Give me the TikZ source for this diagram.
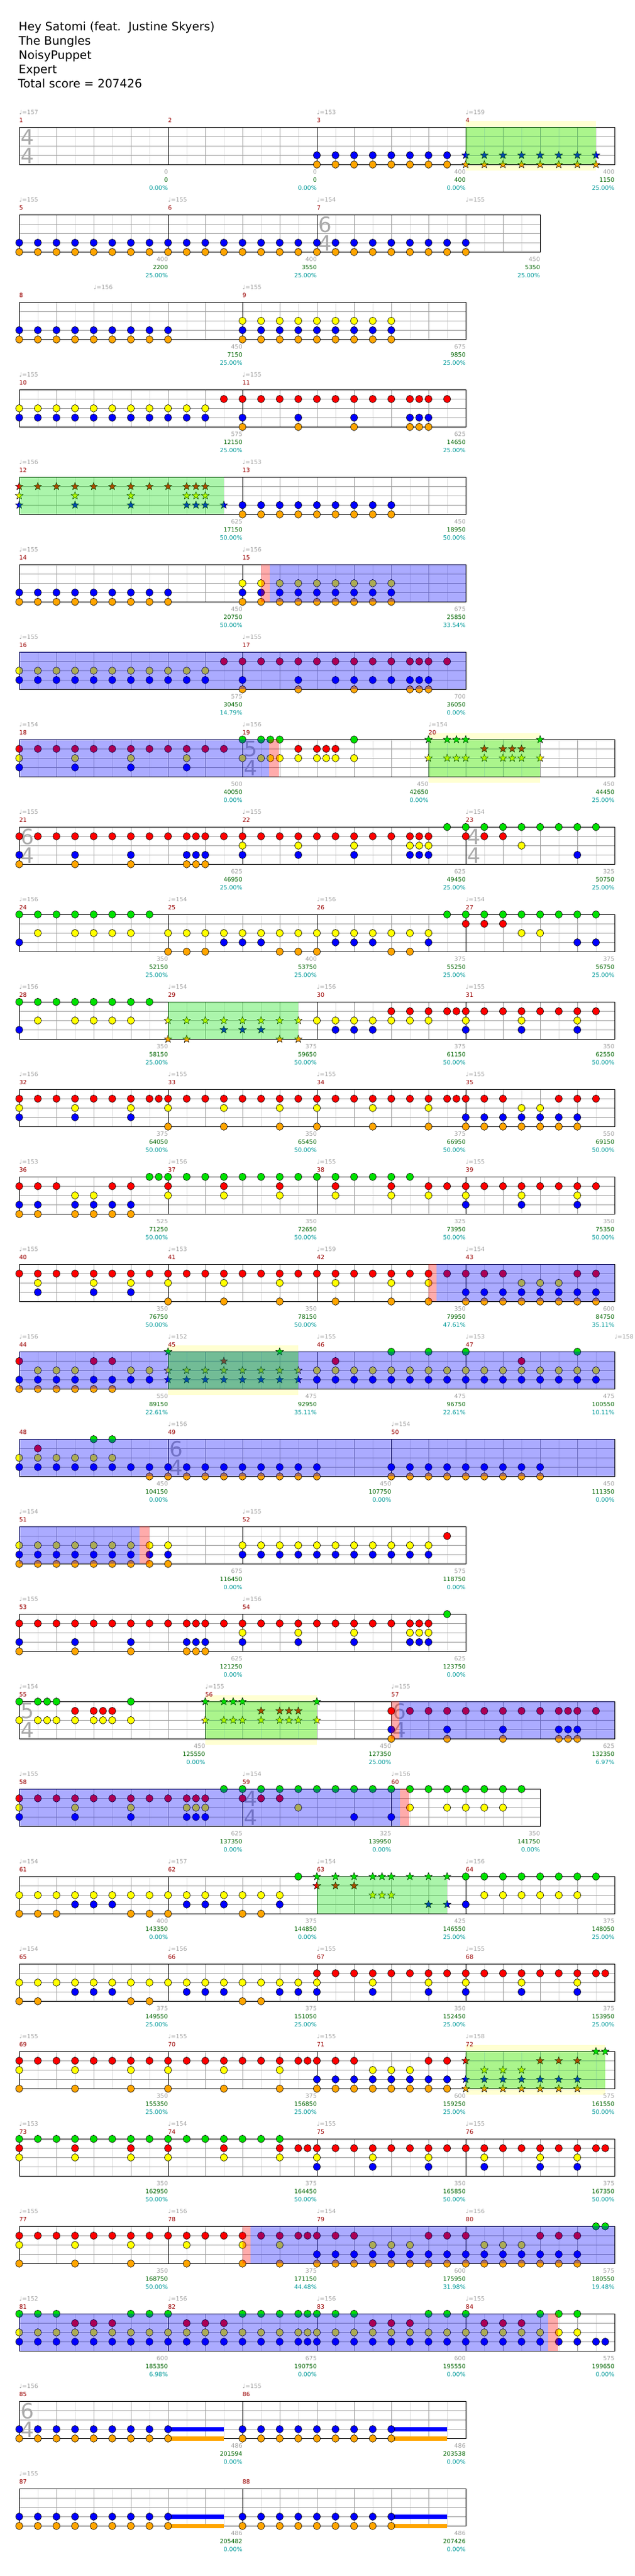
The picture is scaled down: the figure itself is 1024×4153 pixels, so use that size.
\documentclass[tikz,border=0pt]{standalone}
\usepackage{fontspec}
\setmainfont{DejaVu Sans}
\usetikzlibrary{shapes.geometric}

\begin{document}
\begin{tikzpicture}[x=1pt, y=1pt,
    nt/.style={ellipse, draw=black, line width=0.6pt, minimum width=11pt, minimum height=12pt, inner sep=0pt},
    st/.style={star, star points=5, star point ratio=2.4, draw=black, line width=0.5pt, minimum size=13pt, inner sep=0pt},
    rnd/.style={shift={(31pt,{-(205.3+(#1-1)*141)*1pt})}, x=30pt, y=-15pt},
    txt/.style={inner sep=0pt, font=\fontsize{9.5}{10}\selectfont},
    hdr/.style={inner sep=0pt, anchor=base west, font=\fontsize{18.8}{22}\selectfont},
    sig/.style={inner sep=0pt, text=tsgray, font=\fontsize{34}{34}\selectfont},
    gl/.style={draw=llgray, line width=0.8pt},
    gm/.style={draw=lgray, line width=0.8pt},
    spc/.style={fill=ln0, opacity=0.33},
    brc/.style={fill=blue, opacity=0.33},
    pkc/.style={fill=red, opacity=0.33},
    solc/.style={fill=solocol}]
    \definecolor{ln0}{RGB}{0,225,0}
    \definecolor{ln1}{RGB}{255,0,0}
    \definecolor{ln2}{RGB}{255,255,0}
    \definecolor{ln3}{RGB}{0,0,255}
    \definecolor{ln4}{RGB}{255,165,0}
    \definecolor{lgray}{RGB}{160,160,160}
    \definecolor{llgray}{RGB}{222,222,222}
    \definecolor{tsgray}{RGB}{170,170,170}
    \definecolor{mred}{RGB}{153,0,0}
    \definecolor{sgreen}{RGB}{0,100,0}
    \definecolor{pteal}{RGB}{0,153,153}
    \definecolor{solocol}{RGB}{255,255,210}

    \def\staff#1{%
        \foreach \i in {1,3,...,#1} \draw[gl] (\i,0) -- (\i,4);
        \foreach \i in {2,4,...,#1} \draw[gm] (\i,0) -- (\i,4);
        \foreach \j in {1,2,3} \draw[gm] (0,\j) -- (#1,\j);
        \draw[line width=1pt] (0,0) rectangle (#1,4);}
    \def\meas#1#2{\draw[line width=0.9pt] (#1,0) -- (#1,4);
        \node[txt, text=mred, anchor=west] at (#1,-0.75) {#2};}
    \def\tempo#1#2{\node[txt, text=lgray, anchor=base west] at (#1,-1.38) {♩=#2};}
    \def\tsig#1#2#3{\node[sig] at (#1+0.44,1.03) {#2}; \node[sig] at (#1+0.44,3.03) {#3};}
    \def\scores#1#2#3#4{\node[txt, text=lgray, anchor=east] at (#1,4.8) {#2};
        \node[txt, text=sgreen, anchor=east] at (#1,5.667) {#3};
        \node[txt, text=pteal, anchor=east] at (#1,6.533) {#4\%};}
    \def\notes#1#2{\foreach \e in {#2} \node[nt, fill=ln#1] at (\e,#1) {};}
    \def\stars#1#2{\foreach \e in {#2} \node[st, fill=ln#1] at (\e,#1) {};}
    \def\starpow#1#2{\fill[spc] (#1,0) rectangle (#2,4);}
    \def\bru#1#2{\fill[brc] (#1,0) rectangle (#2,4);}
    \def\ppk#1#2{\fill[pkc] (#1,0) rectangle (#2,4);}
    \def\solo#1#2{\fill[solc] (#1,-0.667) rectangle (#2,4.667);}
    \def\sus#1#2#3{\fill[ln#1] (#2,#1-0.22) rectangle (#3,#1+0.22);}

    \useasboundingbox (0,0) rectangle (1024,-4153);

    % header
    \node[hdr] (title) at (30,-50) {Hey Satomi (feat.\ \ Justine Skyers)};
    \node[hdr] (artist) at (30,-72.8) {The Bungles};
    \node[hdr] (charter) at (30,-95.7) {NoisyPuppet};
    \node[hdr] (level) at (30,-118.5) {Expert};
    \node[hdr] (total) at (29,-141.3) {Total score = 207426};

    % row 1
    \begin{scope}[rnd=1]
        \solo{24}{31}
        \staff{32}
        \meas{0}{1} \meas{8}{2} \meas{16}{3} \meas{24}{4}
        \tsig{0}{4}{4}
        \notes{3}{16,...,23} \notes{4}{16,...,23}
        \stars{3}{24,...,31} \stars{4}{24,...,31}
        \starpow{24}{31}
        \tempo{0}{157} \tempo{16}{153} \tempo{24}{159}
        \scores{8}{0}{0}{0.00} \scores{16}{0}{0}{0.00} \scores{24}{400}{400}{0.00} \scores{32}{400}{1150}{25.00}
    \end{scope}

    % row 2
    \begin{scope}[rnd=2]
        \staff{28}
        \meas{0}{5} \meas{8}{6} \meas{16}{7}
        \tsig{16}{6}{4}
        \notes{3}{0,...,24} \notes{4}{0,...,24}
        \tempo{0}{155} \tempo{8}{155} \tempo{16}{154} \tempo{24}{155}
        \scores{8}{400}{2200}{25.00} \scores{16}{400}{3550}{25.00} \scores{28}{450}{5350}{25.00}
    \end{scope}

    % row 3
    \begin{scope}[rnd=3]
        \staff{24}
        \meas{0}{8} \meas{12}{9}
        \notes{2}{12,...,20}
        \notes{3}{0,...,8,12,13,...,20} \notes{4}{0,...,8,12,13,...,20}
        \tempo{4}{156} \tempo{12}{155}
        \scores{12}{450}{7150}{25.00} \scores{24}{675}{9850}{25.00}
    \end{scope}

    % row 4
    \begin{scope}[rnd=4]
        \staff{24}
        \meas{0}{10} \meas{12}{11}
        \notes{1}{11,...,21,21.5,22,23}
        \notes{2}{0,...,10}
        \notes{3}{0,...,10,12,15,18,21,21.5,22}
        \notes{4}{12,15,18,21,21.5,22}
        \tempo{0}{155} \tempo{12}{155}
        \scores{12}{575}{12150}{25.00} \scores{24}{625}{14650}{25.00}
    \end{scope}

    % row 5
    \begin{scope}[rnd=5]
        \staff{24}
        \meas{0}{12} \meas{12}{13}
        \stars{1}{0,...,9,9.5,10}
        \stars{2}{0,3,6,9,9.5,10}
        \stars{3}{0,3,6,9,9.5,10,11}
        \notes{3}{12,...,20} \notes{4}{12,...,20}
        \starpow{0}{11}
        \tempo{0}{156} \tempo{12}{153}
        \scores{12}{625}{17150}{50.00} \scores{24}{450}{18950}{50.00}
    \end{scope}

    % row 6
    \begin{scope}[rnd=6]
        \staff{24}
        \meas{0}{14} \meas{12}{15}
        \notes{2}{12,...,20}
        \notes{3}{0,...,8,12,13,...,20} \notes{4}{0,...,8,12,13,...,20}
        \ppk{13}{13.45} \bru{13.45}{24}
        \tempo{0}{155} \tempo{12}{156}
        \scores{12}{450}{20750}{50.00} \scores{24}{675}{25850}{33.54}
    \end{scope}

    % row 7
    \begin{scope}[rnd=7]
        \staff{24}
        \meas{0}{16} \meas{12}{17}
        \notes{1}{11,...,21,21.5,22,23}
        \notes{2}{0,...,10}
        \notes{3}{0,...,10,12,15,17,18,19,20,21,21.5,22}
        \notes{4}{12,15,18,21,21.5,22}
        \bru{0}{24}
        \tempo{0}{155} \tempo{12}{155}
        \scores{12}{575}{30450}{14.79} \scores{24}{700}{36050}{0.00}
    \end{scope}

    % row 8
    \begin{scope}[rnd=8]
        \solo{22}{28}
        \staff{32}
        \meas{0}{18} \meas{12}{19} \meas{22}{20}
        \tsig{12}{5}{4}
        \notes{0}{12,13,13.5,14,18}
        \notes{1}{0,...,11,15,16,16.5,17}
        \notes{2}{0,3,6,9,12,13,13.5,14,15,16,16.5,17,18}
        \notes{3}{0,3,6,9}
        \stars{0}{22,23,23.5,24,28}
        \stars{1}{25,26,26.5,27}
        \stars{2}{22,23,23.5,24,25,26,26.5,27,28}
        \bru{0}{13.43} \ppk{13.43}{13.98}
        \starpow{22}{28}
        \tempo{0}{154} \tempo{12}{156} \tempo{22}{154}
        \scores{12}{500}{40050}{0.00} \scores{22}{450}{42650}{0.00} \scores{32}{450}{44450}{25.00}
    \end{scope}

    % row 9
    \begin{scope}[rnd=9]
        \staff{32}
        \meas{0}{21} \meas{12}{22} \meas{24}{23}
        \tsig{0}{6}{4} \tsig{24}{4}{4}
        \notes{0}{23,...,31}
        \notes{1}{0,...,9,9.5,10,11,12,...,21,21.5,22,24,25,26}
        \notes{2}{12,15,18,21,21.5,22,27}
        \notes{3}{0,3,6,9,9.5,10,12,15,18,21,21.5,22,30}
        \notes{4}{0,3,6,9,9.5,10}
        \tempo{0}{155} \tempo{12}{155} \tempo{24}{154}
        \scores{12}{625}{46950}{25.00} \scores{24}{625}{49450}{25.00} \scores{32}{325}{50750}{25.00}
    \end{scope}

    % row 10
    \begin{scope}[rnd=10]
        \staff{32}
        \meas{0}{24} \meas{8}{25} \meas{16}{26} \meas{24}{27}
        \notes{0}{0,...,7,23,24,...,31}
        \notes{1}{24,25,26}
        \notes{2}{1,3,4,5,6,8,9,...,22,27,28}
        \notes{3}{0,11,12,13,17,18,19,22,30,31}
        \notes{4}{8,9,10,14,15,16,20,21}
        \tempo{0}{156} \tempo{8}{154} \tempo{16}{156} \tempo{24}{154}
        \scores{8}{350}{52150}{25.00} \scores{16}{400}{53750}{25.00} \scores{24}{375}{55250}{25.00} \scores{32}{375}{56750}{25.00}
    \end{scope}

    % row 11
    \begin{scope}[rnd=11]
        \staff{32}
        \meas{0}{28} \meas{8}{29} \meas{16}{30} \meas{24}{31}
        \notes{0}{0,...,7}
        \notes{1}{20,21,22,23,23.5,24,25,...,31}
        \notes{2}{1,3,4,5,6,16,17,...,22,24,27,30}
        \notes{3}{0,17,18,19,24,27,30}
        \stars{2}{8,...,15} \stars{3}{11,12,13} \stars{4}{8,9,14,15}
        \starpow{8}{15}
        \tempo{0}{156} \tempo{8}{154} \tempo{16}{156} \tempo{24}{155}
        \scores{8}{350}{58150}{25.00} \scores{16}{375}{59650}{50.00} \scores{24}{375}{61150}{50.00} \scores{32}{350}{62550}{50.00}
    \end{scope}

    % row 12
    \begin{scope}[rnd=12]
        \staff{32}
        \meas{0}{32} \meas{8}{33} \meas{16}{34} \meas{24}{35}
        \notes{1}{0,...,7,7.5,8,9,...,23,23.5,24,25,26,29,30,31}
        \notes{2}{0,3,6,8,11,14,16,19,22,27,28}
        \notes{3}{0,3,6,24,25,...,30}
        \notes{4}{8,11,14,16,19,22,24,25,...,30}
        \tempo{0}{156} \tempo{8}{155} \tempo{16}{155} \tempo{24}{155}
        \scores{8}{375}{64050}{50.00} \scores{16}{350}{65450}{50.00} \scores{24}{375}{66950}{50.00} \scores{32}{550}{69150}{50.00}
    \end{scope}

    % row 13
    \begin{scope}[rnd=13]
        \staff{32}
        \meas{0}{36} \meas{8}{37} \meas{16}{38} \meas{24}{39}
        \notes{0}{7,7.5,8,9,...,21}
        \notes{1}{0,1,2,5,6,8,11,14,17,20,22,23,24,25,...,31}
        \notes{2}{3,4,8,11,14,17,20,22,24,27,30}
        \notes{3}{0,1,3,4,5,6,24,27,30}
        \notes{4}{0,1,3,4,5,6}
        \tempo{0}{153} \tempo{8}{156} \tempo{16}{155} \tempo{24}{155}
        \scores{8}{525}{71250}{50.00} \scores{16}{350}{72650}{50.00} \scores{24}{325}{73950}{50.00} \scores{32}{350}{75350}{50.00}
    \end{scope}

    % row 14
    \begin{scope}[rnd=14]
        \staff{32}
        \meas{0}{40} \meas{8}{41} \meas{16}{42} \meas{24}{43}
        \notes{1}{0,...,26,30,31}
        \notes{2}{1,4,6,8,11,14,17,20,22,27,28,29}
        \notes{3}{1,4,6,24,25,...,31}
        \notes{4}{8,11,14,17,20,22,24,25,...,31}
        \ppk{22}{22.43} \bru{22.43}{32}
        \tempo{0}{155} \tempo{8}{153} \tempo{16}{159} \tempo{24}{154}
        \scores{8}{350}{76750}{50.00} \scores{16}{350}{78150}{50.00} \scores{24}{350}{79950}{47.61} \scores{32}{600}{84750}{35.11}
    \end{scope}

    % row 15
    \begin{scope}[rnd=15]
        \solo{8}{15}
        \staff{32}
        \meas{0}{44} \meas{8}{45} \meas{16}{46} \meas{24}{47}
        \notes{0}{20,22,24,30}
        \notes{1}{0,4,5,17,27}
        \notes{2}{1,2,3,6,7,16,17,...,31}
        \notes{3}{0,...,7,16,17,...,31}
        \notes{4}{0,...,5}
        \stars{0}{8,14} \stars{1}{11} \stars{2}{8,...,15} \stars{3}{8,...,15}
        \bru{0}{32} \starpow{8}{15}
        \tempo{0}{156} \tempo{8}{152} \tempo{16}{155} \tempo{24}{153} \tempo{32}{158}
        \scores{8}{550}{89150}{22.61} \scores{16}{475}{92950}{35.11} \scores{24}{475}{96750}{22.61} \scores{32}{475}{100550}{10.11}
    \end{scope}

    % row 16
    \begin{scope}[rnd=16]
        \staff{32}
        \meas{0}{48} \meas{8}{49} \meas{20}{50}
        \tsig{8}{6}{4}
        \notes{0}{4,5}
        \notes{1}{1}
        \notes{2}{0,...,5}
        \notes{3}{0,...,16,20,21,...,28}
        \notes{4}{7,8,...,16,20,21,...,28}
        \bru{0}{32}
        \tempo{8}{156} \tempo{20}{154}
        \scores{8}{450}{104150}{0.00} \scores{20}{450}{107750}{0.00} \scores{32}{450}{111350}{0.00}
    \end{scope}

    % row 17
    \begin{scope}[rnd=17]
        \staff{24}
        \meas{0}{51} \meas{12}{52}
        \notes{1}{23}
        \notes{2}{0,...,8,12,13,...,22}
        \notes{3}{0,...,8,12,13,...,22}
        \notes{4}{0,...,8}
        \bru{0}{6.48} \ppk{6.48}{7}
        \tempo{0}{154} \tempo{12}{155}
        \scores{12}{675}{116450}{0.00} \scores{24}{575}{118750}{0.00}
    \end{scope}

    % row 18
    \begin{scope}[rnd=18]
        \staff{24}
        \meas{0}{53} \meas{12}{54}
        \notes{0}{23}
        \notes{1}{0,...,9,9.5,10,11,12,...,21,21.5,22}
        \notes{2}{12,15,18,21,21.5,22}
        \notes{3}{0,3,6,9,9.5,10,12,15,18,21,21.5,22}
        \notes{4}{0,3,6,9,9.5,10}
        \tempo{0}{155} \tempo{12}{156}
        \scores{12}{625}{121250}{0.00} \scores{24}{625}{123750}{0.00}
    \end{scope}

    % row 19
    \begin{scope}[rnd=19]
        \solo{10}{16}
        \staff{32}
        \meas{0}{55} \meas{10}{56} \meas{20}{57}
        \tsig{0}{5}{4} \tsig{20}{6}{4}
        \notes{0}{0,1,1.5,2,6}
        \notes{1}{3,4,4.5,5,20,21,...,29,29.5,30,31}
        \notes{2}{0,1,1.5,2,3,4,4.5,5,6}
        \notes{3}{20,23,26,29,29.5,30}
        \notes{4}{20,23,26,29,29.5,30}
        \stars{0}{10,11,11.5,12,16}
        \stars{1}{13,14,14.5,15}
        \stars{2}{10,11,11.5,12,13,14,14.5,15,16}
        \starpow{10}{16}
        \ppk{20}{20.43} \bru{20.43}{32}
        \tempo{0}{154} \tempo{10}{155} \tempo{20}{155}
        \scores{10}{450}{125550}{0.00} \scores{20}{450}{127350}{25.00} \scores{32}{625}{132350}{6.97}
    \end{scope}

    % row 20
    \begin{scope}[rnd=20]
        \staff{28}
        \meas{0}{58} \meas{12}{59} \meas{20}{60}
        \tsig{12}{4}{4}
        \notes{0}{11,12,...,27}
        \notes{1}{0,...,9,9.5,10,12,13,14}
        \notes{2}{0,3,6,9,9.5,10,15,21,23,24,25,26}
        \notes{3}{0,3,6,9,9.5,10,18,20}
        \bru{0}{20.45} \ppk{20.45}{20.98}
        \tempo{0}{155} \tempo{12}{154} \tempo{20}{156}
        \scores{12}{625}{137350}{0.00} \scores{20}{325}{139950}{0.00} \scores{28}{350}{141750}{0.00}
    \end{scope}

    % row 21
    \begin{scope}[rnd=21]
        \staff{32}
        \meas{0}{61} \meas{8}{62} \meas{16}{63} \meas{24}{64}
        \notes{0}{15,24,25,...,31}
        \notes{2}{0,...,14,25,26,...,30}
        \notes{3}{3,4,5,9,10,11,14,24}
        \notes{4}{0,1,2,6,7,8,12,13}
        \stars{0}{16,17,18,19,19.5,20,21,22,23}
        \stars{1}{16,17,18} \stars{2}{19,19.5,20} \stars{3}{22,23}
        \starpow{16}{23}
        \tempo{0}{154} \tempo{8}{157} \tempo{16}{154} \tempo{24}{156}
        \scores{8}{400}{143350}{0.00} \scores{16}{375}{144850}{0.00} \scores{24}{425}{146550}{25.00} \scores{32}{375}{148050}{25.00}
    \end{scope}

    % row 22
    \begin{scope}[rnd=22]
        \staff{32}
        \meas{0}{65} \meas{8}{66} \meas{16}{67} \meas{24}{68}
        \notes{1}{16,17,...,30,31,31.5}
        \notes{2}{0,...,16,19,22,24,27,30}
        \notes{3}{3,4,5,9,10,11,14,15,16,19,22,24,27,30}
        \notes{4}{0,1,6,7,12,13}
        \tempo{0}{154} \tempo{8}{156} \tempo{16}{155} \tempo{24}{155}
        \scores{8}{375}{149550}{25.00} \scores{16}{375}{151050}{25.00} \scores{24}{350}{152450}{25.00} \scores{32}{375}{153950}{25.00}
    \end{scope}

    % row 23
    \begin{scope}[rnd=23]
        \solo{24}{31.5}
        \staff{32}
        \meas{0}{69} \meas{8}{70} \meas{16}{71} \meas{24}{72}
        \notes{1}{0,...,14,15,15.5,16,17,18,22,23}
        \notes{2}{0,3,6,8,11,14,19,20,21}
        \notes{3}{16,17,...,23}
        \notes{4}{0,3,6,8,11,14,16,17,...,23}
        \stars{0}{31,31.5} \stars{1}{24,28,29,30} \stars{2}{25,26,27}
        \stars{3}{24,25,...,30} \stars{4}{24,25,...,30}
        \starpow{24}{31.5}
        \tempo{0}{155} \tempo{8}{155} \tempo{16}{155} \tempo{24}{158}
        \scores{8}{350}{155350}{25.00} \scores{16}{375}{156850}{25.00} \scores{24}{600}{159250}{25.00} \scores{32}{575}{161550}{50.00}
    \end{scope}

    % row 24
    \begin{scope}[rnd=24]
        \staff{32}
        \meas{0}{73} \meas{8}{74} \meas{16}{75} \meas{24}{76}
        \notes{0}{0,...,14}
        \notes{1}{0,3,6,8,11,14,15,15.5,16,17,...,30,31,31.5}
        \notes{2}{0,3,6,8,11,14,16,19,22,25,28,30}
        \notes{3}{16,19,22,25,28,30}
        \tempo{0}{153} \tempo{8}{154} \tempo{16}{155} \tempo{24}{155}
        \scores{8}{350}{162950}{50.00} \scores{16}{375}{164450}{50.00} \scores{24}{350}{165850}{50.00} \scores{32}{375}{167350}{50.00}
    \end{scope}

    % row 25
    \begin{scope}[rnd=25]
        \staff{32}
        \meas{0}{77} \meas{8}{78} \meas{16}{79} \meas{24}{80}
        \notes{0}{31,31.5}
        \notes{1}{0,...,15,15.5,16,17,18,22,23,24,28,29,30}
        \notes{2}{0,3,6,9,12,14,19,20,21,25,26,27}
        \notes{3}{16,17,...,30}
        \notes{4}{0,3,6,9,12,14,16,17,...,30}
        \ppk{12}{12.43} \bru{12.43}{32}
        \tempo{0}{155} \tempo{8}{156} \tempo{16}{154} \tempo{24}{156}
        \scores{8}{350}{168750}{50.00} \scores{16}{375}{171150}{44.48} \scores{24}{600}{175950}{31.98} \scores{32}{575}{180550}{19.48}
    \end{scope}

    % row 26
    \begin{scope}[rnd=26]
        \staff{32}
        \meas{0}{81} \meas{8}{82} \meas{16}{83} \meas{24}{84}
        \notes{0}{0,1,2,6,7,8,12,13,14,15,15.5,16,17,18,22,23,24,28,29,30}
        \notes{1}{3,4,5,9,10,11,19,20,21,25,26,27}
        \notes{2}{0,...,15,15.5,16,17,...,30}
        \notes{3}{0,...,15,15.5,16,17,...,31,31.5}
        \bru{0}{28.43} \ppk{28.43}{28.98}
        \tempo{0}{152} \tempo{8}{156} \tempo{16}{156} \tempo{24}{155}
        \scores{8}{600}{185350}{6.98} \scores{16}{675}{190750}{0.00} \scores{24}{600}{195550}{0.00} \scores{32}{575}{199650}{0.00}
    \end{scope}

    % row 27
    \begin{scope}[rnd=27]
        \staff{24}
        \meas{0}{85} \meas{12}{86}
        \tsig{0}{6}{4}
        \sus{3}{8}{11} \sus{4}{8}{11} \sus{3}{20}{23} \sus{4}{20}{23}
        \notes{3}{0,...,8,12,13,...,20} \notes{4}{0,...,8,12,13,...,20}
        \tempo{0}{156} \tempo{12}{155}
        \scores{12}{486}{201594}{0.00} \scores{24}{486}{203538}{0.00}
    \end{scope}

    % row 28
    \begin{scope}[rnd=28]
        \staff{24}
        \meas{0}{87} \meas{12}{88}
        \sus{3}{8}{11} \sus{4}{8}{11} \sus{3}{20}{23} \sus{4}{20}{23}
        \notes{3}{0,...,8,12,13,...,20} \notes{4}{0,...,8,12,13,...,20}
        \tempo{0}{155}
        \scores{12}{486}{205482}{0.00} \scores{24}{486}{207426}{0.00}
    \end{scope}
\end{tikzpicture}
\end{document}
